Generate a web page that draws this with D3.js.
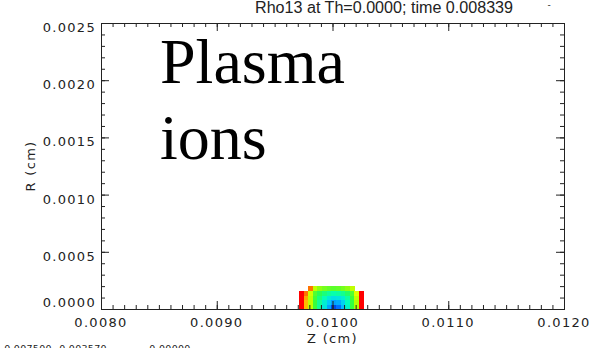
<!DOCTYPE html>
<html>
<head>
<meta charset="utf-8">
<script src="https://cdn.jsdelivr.net/npm/d3@7"></script>
<style>
  html, body { margin: 0; padding: 0; background: #fff; }
  svg { display: block; }
  .lbl { font-family: "DejaVu Sans", sans-serif; fill: #222; }
</style>
</head>
<body>
<svg id="chart" width="594" height="348"></svg>
<script>
// Axis extents and tick labels
const zDomain = [0.0080, 0.0120];
const rDomain = [0.0000, 0.0025];
const zTickLabels = ["0.0080", "0.0090", "0.0100", "0.0110", "0.0120"];
const rTickLabels = ["0.0000", "0.0005", "0.0010", "0.0015", "0.0020", "0.0025"];
const colorbarLabels = ["0.007500", "0.003570", "0.00000"];

// Density grid: cell edges in Z and R (cm), values by row (r from axis upward)
const zEdges = [0.00971, 0.00975, 0.00979, 0.00983, 0.00987, 0.00991, 0.00995,
                0.00999, 0.01003, 0.01007, 0.01011, 0.01015, 0.01019, 0.01023, 0.01027];
const rEdges = [0.00000, 0.00004, 0.00008, 0.00012, 0.00016, 0.00020];
const rhoRows = [
  [1.00, 0.86, 0.72, 0.56, 0.46, 0.36, 0.22, 0.06, 0.12, 0.26, 0.40, 0.55, 0.70, 1.00],
  [1.00, 0.86, 0.72, 0.56, 0.46, 0.38, 0.29, 0.21, 0.23, 0.31, 0.42, 0.55, 0.70, 1.00],
  [1.00, 0.88, 0.72, 0.57, 0.49, 0.43, 0.37, 0.34, 0.35, 0.38, 0.45, 0.56, 0.72, 1.00],
  [1.00, 0.92, 0.74, 0.59, 0.53, 0.49, 0.46, 0.44, 0.45, 0.47, 0.51, 0.59, 0.76, 1.00],
  [null, null, 0.92, 0.72, 0.66, 0.63, 0.61, 0.60, 0.61, 0.63, 0.66, 0.72, null, null]
];

const svg = d3.select("#chart");
const margin = { left: 101, right: 30, top: 23, bottom: 39 };
const W = 594, H = 348;

const x = d3.scaleLinear().domain(zDomain).range([margin.left, W - margin.right]);
const y = d3.scaleLinear().domain(rDomain).range([H - margin.bottom, margin.top]);

// Rainbow colour table: low = dark blue, high = red
const color = d3.scaleLinear()
  .domain([0, 0.12, 0.28, 0.42, 0.55, 0.7, 0.8, 0.9, 1])
  .range(["#0020c8", "#0070ff", "#00c8ff", "#00ffc0", "#30ff40", "#b0ff00", "#ffff00", "#ff9000", "#ff0000"])
  .interpolate(d3.interpolateRgb);

// Density cells
const cells = [];
rhoRows.forEach((row, j) => row.forEach((v, i) => {
  if (v !== null) cells.push({ i, j, v });
}));
svg.append("g").selectAll("rect").data(cells).join("rect")
  .attr("x", d => x(zEdges[d.i]))
  .attr("width", d => x(zEdges[d.i + 1]) - x(zEdges[d.i]) + 0.3)
  .attr("y", d => y(rEdges[d.j + 1]))
  .attr("height", d => y(rEdges[d.j]) - y(rEdges[d.j + 1]) + 0.3)
  .attr("fill", d => color(d.v))
  .attr("shape-rendering", "crispEdges");

// Frame with inward ticks on all four sides
const zMajor = d3.range(0, 5).map(k => 0.0080 + k * 0.0010);
const zMinor = d3.range(0, 41).map(k => 0.0080 + k * 0.0001);
const rMajor = d3.range(0, 6).map(k => k * 0.0005);
const rMinor = d3.range(0, 26).map(k => k * 0.0001);

const axisStyle = g => {
  g.select(".domain").remove();
  g.selectAll("line").attr("stroke", "#222").attr("stroke-width", 1);
  g.selectAll("text").remove();
};

const [x0, x1] = x.range();
const [y0, y1] = y.range(); // y0 bottom, y1 top

svg.append("g").attr("transform", `translate(0,${y0})`)
  .call(d3.axisBottom(x).tickValues(zMinor).tickSize(-4)).call(axisStyle);
svg.append("g").attr("transform", `translate(0,${y0})`)
  .call(d3.axisBottom(x).tickValues(zMajor).tickSize(-8)).call(axisStyle);
svg.append("g").attr("transform", `translate(0,${y1})`)
  .call(d3.axisTop(x).tickValues(zMinor).tickSize(-4)).call(axisStyle);
svg.append("g").attr("transform", `translate(0,${y1})`)
  .call(d3.axisTop(x).tickValues(zMajor).tickSize(-8)).call(axisStyle);
svg.append("g").attr("transform", `translate(${x0},0)`)
  .call(d3.axisLeft(y).tickValues(rMinor).tickSize(-4)).call(axisStyle);
svg.append("g").attr("transform", `translate(${x0},0)`)
  .call(d3.axisLeft(y).tickValues(rMajor).tickSize(-8)).call(axisStyle);
svg.append("g").attr("transform", `translate(${x1},0)`)
  .call(d3.axisRight(y).tickValues(rMinor).tickSize(-4)).call(axisStyle);
svg.append("g").attr("transform", `translate(${x1},0)`)
  .call(d3.axisRight(y).tickValues(rMajor).tickSize(-8)).call(axisStyle);

svg.append("rect")
  .attr("x", x0 + 0.5).attr("y", y1 + 0.5)
  .attr("width", x1 - x0).attr("height", y0 - y1)
  .attr("fill", "none").attr("stroke", "#222").attr("stroke-width", 1);

// Tick labels
svg.append("g").selectAll("text").data(zTickLabels).join("text")
  .attr("class", "lbl")
  .attr("x", d => x(+d))
  .attr("y", y0 + 18)
  .attr("text-anchor", "middle")
  .attr("font-size", 13)
  .attr("letter-spacing", 1.3)
  .text(d => d);

svg.append("g").selectAll("text").data(rTickLabels).join("text")
  .attr("class", "lbl")
  .attr("x", x0 - 5)
  .attr("y", d => Math.min(y(+d) + 9, y0 - 2))
  .attr("text-anchor", "end")
  .attr("font-size", 13)
  .attr("letter-spacing", 1.3)
  .text(d => d);

// Axis titles
svg.append("text").attr("class", "lbl")
  .attr("x", (x0 + x1) / 2).attr("y", y0 + 34)
  .attr("text-anchor", "middle").attr("font-size", 13).attr("letter-spacing", 1.3)
  .text("Z (cm)");

svg.append("text").attr("class", "lbl")
  .attr("transform", `translate(35,${(y0 + y1) / 2}) rotate(-90)`)
  .attr("text-anchor", "middle").attr("font-size", 13).attr("letter-spacing", 1.3)
  .text("R (cm)");

// Plot title (its upper edge runs off the top of the page)
svg.append("text")
  .attr("font-family", "'Liberation Sans', Arial, sans-serif").attr("fill", "#222")
  .attr("x", 384).attr("y", 13)
  .attr("text-anchor", "middle").attr("font-size", 16)
  .attr("textLength", 258).attr("lengthAdjust", "spacingAndGlyphs")
  .text("Rho13 at Th=0.0000; time 0.008339");

svg.append("text").attr("class", "lbl")
  .attr("x", 549).attr("y", 8)
  .attr("text-anchor", "middle").attr("font-size", 9)
  .text("-");

// Colour bar labels along the bottom edge
svg.append("g").selectAll("text").data(colorbarLabels).join("text")
  .attr("class", "lbl")
  .attr("x", (d, i) => [28, 83, 170][i])
  .attr("y", 352)
  .attr("text-anchor", "middle")
  .attr("font-size", 9.5)
  .attr("letter-spacing", 0.3)
  .text(d => d);

// Annotation
const note = svg.append("text")
  .attr("font-family", "'Liberation Serif', 'Times New Roman', serif")
  .attr("font-size", 64).attr("fill", "#000");
note.append("tspan").attr("x", 160).attr("y", 83).text("Plasma");
note.append("tspan").attr("x", 160).attr("y", 159).text("ions");
</script>
</body>
</html>
